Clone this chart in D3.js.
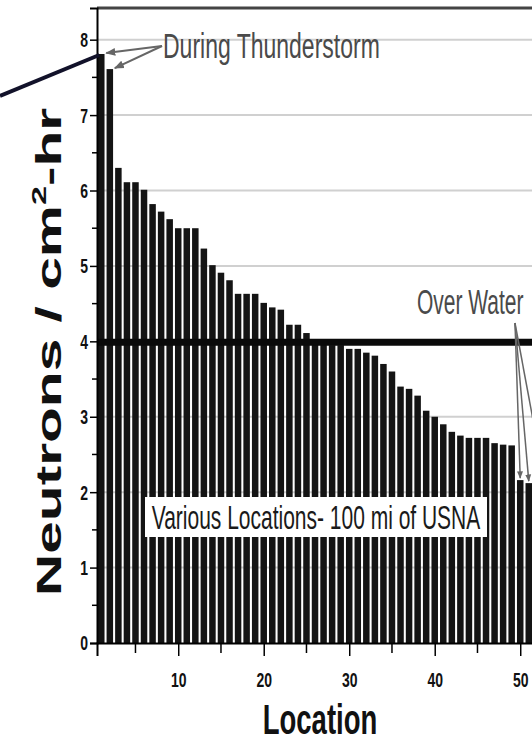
<!DOCTYPE html>
<html>
<head>
<meta charset="utf-8">
<script src="https://cdn.jsdelivr.net/npm/d3@7"></script>
<style>
html, body { margin: 0; padding: 0; background: #fff; }
svg { display: block; }
text { font-family: "Liberation Sans", Arial, sans-serif; }
</style>
</head>
<body>
<script>
// ---- data ----
const locations = [1,2,3,4,5,6,7,8,9,10,11,12,13,14,15,16,17,18,19,20,21,22,23,24,25,26,27,28,29,30,31,32,33,34,35,36,37,38,39,40,41,42,43,44,45,46,47,48,49,50,51];
const neutrons = [7.81,7.61,6.30,6.11,6.11,6.01,5.82,5.72,5.62,5.50,5.50,5.50,5.23,5.01,4.91,4.81,4.63,4.63,4.63,4.51,4.45,4.42,4.22,4.22,4.11,4.00,4.00,3.95,3.95,3.90,3.90,3.85,3.81,3.70,3.60,3.40,3.37,3.28,3.08,3.00,2.90,2.80,2.75,2.72,2.72,2.72,2.65,2.63,2.62,2.16,2.12];
const yTicks = [0,1,2,3,4,5,6,7,8];
const yMinorTicks = [0.5,1.5,2.5,3.5,4.5,5.5,6.5,7.5];
const xTicks = [10,20,30,40,50];
const xMinorTicks = [5,15,25,35,45];
const referenceLevel = 4;
const thunderstormIdx = [1,2];
const overWaterIdx = [50,51];
const labels = {
  x: "Location",
  y1: "Neutrons / cm", ysup: "2", y2: "-hr",
  thunder: "During Thunderstorm",
  water: "Over Water",
  various: "Various Locations- 100 mi of USNA"
};

(function () {
const W = 532, H = 745;
const svg = d3.select("body").append("svg").attr("width", W).attr("height", H);

const mLeft = 97, mBottom = 643, mTop = 8;
const x = d3.scaleLinear().domain([0.5, 52.5]).range([mLeft, mLeft + 52 * 8.55]);
const y = d3.scaleLinear().domain([0, 8.42]).range([mBottom, mTop]);
const barW = 6.5;

const defs = svg.append("defs");
defs.append("marker").attr("id", "arr").attr("viewBox", "0 0 10 10")
  .attr("refX", 9).attr("refY", 5).attr("markerWidth", 5).attr("markerHeight", 5)
  .attr("orient", "auto").append("path").attr("d", "M0,1 L10,5 L0,9 z").attr("fill", "#666");
defs.append("clipPath").attr("id", "plotclip").append("rect")
  .attr("x", mLeft).attr("y", 0).attr("width", W - mLeft).attr("height", mBottom);

// grid
svg.append("g").selectAll("line").data(yTicks.filter(d => d > 0)).join("line")
  .attr("x1", mLeft).attr("x2", W).attr("y1", d => y(d)).attr("y2", d => y(d))
  .attr("stroke", "#d0d0d0").attr("stroke-width", 2);

// frame top
svg.append("line").attr("x1", mLeft).attr("x2", W).attr("y1", mTop).attr("y2", mTop)
  .attr("stroke", "#444").attr("stroke-width", 3);

// bars
svg.append("g").attr("clip-path", "url(#plotclip)").selectAll("rect")
  .data(locations.map((l, i) => ({l, v: neutrons[i]}))).join("rect")
  .attr("x", d => x(d.l) - barW / 2).attr("width", barW)
  .attr("y", d => y(d.v)).attr("height", d => mBottom - y(d.v))
  .attr("fill", "#141414");

// reference line at 4
svg.append("line").attr("x1", mLeft).attr("x2", W)
  .attr("y1", y(referenceLevel) + 1).attr("y2", y(referenceLevel) + 1)
  .attr("stroke", "#0a0a0a").attr("stroke-width", 7);

// axes
const yAxis = d3.axisLeft(y).tickValues(yTicks).tickSize(7).tickFormat(d3.format("d"));
const gy = svg.append("g").attr("transform", `translate(${mLeft},0)`).call(yAxis);
gy.select(".domain").attr("stroke", "#000").attr("stroke-width", 2);
gy.selectAll(".tick line").attr("stroke", "#000").attr("stroke-width", 1.5);
gy.selectAll(".tick text").attr("x", null).attr("y", null).attr("dy", null)
  .attr("font-size", 14).attr("font-weight", "bold").attr("fill", "#111")
  .attr("text-anchor", "end").attr("dominant-baseline", "central")
  .attr("transform", "translate(-9,0) scale(1,1.45)");
svg.append("g").selectAll("line").data(yMinorTicks).join("line")
  .attr("x1", mLeft - 5).attr("x2", mLeft).attr("y1", d => y(d)).attr("y2", d => y(d))
  .attr("stroke", "#000").attr("stroke-width", 1.5);

const xAxis = d3.axisBottom(x).tickValues(xTicks).tickSize(13).tickFormat(d3.format("d"));
const gx = svg.append("g").attr("transform", `translate(0,${mBottom})`).call(xAxis);
gx.select(".domain").attr("stroke", "#000").attr("stroke-width", 2);
gx.selectAll(".tick line").attr("stroke", "#000").attr("stroke-width", 1.5);
gx.selectAll(".tick text").attr("y", null).attr("dy", null)
  .attr("font-size", 14).attr("font-weight", "bold").attr("fill", "#111")
  .attr("dominant-baseline", "central")
  .attr("transform", "translate(0,37) scale(1,1.45)");
svg.append("g").selectAll("line").data(xMinorTicks).join("line")
  .attr("x1", d => x(d)).attr("x2", d => x(d)).attr("y1", mBottom).attr("y2", mBottom + 10)
  .attr("stroke", "#000").attr("stroke-width", 1.5);

// axis titles
svg.append("text").attr("transform", "translate(320,734) scale(1,1.52)")
  .attr("text-anchor", "middle").attr("font-size", 27.5).attr("font-weight", "bold")
  .attr("fill", "#111").text(labels.x);

const yt = svg.append("text").attr("transform", "translate(61,352) rotate(-90) scale(1.63,1)")
  .attr("text-anchor", "middle").attr("font-size", 36).attr("font-weight", "bold").attr("fill", "#111");
yt.append("tspan").text(labels.y1);
yt.append("tspan").attr("font-size", 21).attr("dy", -15).text(labels.ysup);
yt.append("tspan").attr("dy", 15).text(labels.y2);

// pointer line on the left
svg.append("line").attr("x1", 0).attr("y1", 96).attr("x2", x(thunderstormIdx[0]) - 2).attr("y2", y(neutrons[0]) + 1)
  .attr("stroke", "#12122a").attr("stroke-width", 4);

// Various locations box
svg.append("rect").attr("x", 145).attr("y", 497).attr("width", 342).attr("height", 40).attr("fill", "#fff");
svg.append("text").attr("transform", "translate(316,529) scale(1,1.62)")
  .attr("text-anchor", "middle").attr("font-size", 21).attr("fill", "#1a1a1a").attr("font-weight", 500)
  .text(labels.various);

// During thunderstorm
svg.append("text").attr("transform", "translate(163,58) scale(1,1.55)")
  .attr("font-size", 23).attr("fill", "#4a4a4a").text(labels.thunder);
thunderstormIdx.forEach(i => {
  svg.append("line").attr("x1", 162).attr("y1", 46)
    .attr("x2", x(i) + 5).attr("y2", y(neutrons[i - 1]) - 1)
    .attr("stroke", "#666").attr("stroke-width", 2).attr("marker-end", "url(#arr)");
});

// Over water
svg.append("text").attr("transform", "translate(417,314) scale(1,1.65)")
  .attr("font-size", 21).attr("fill", "#4a4a4a").text(labels.water);
const wTargets = [{xx: x(overWaterIdx[0]), yy: y(neutrons[overWaterIdx[0] - 1])},
                  {xx: x(overWaterIdx[1]), yy: y(neutrons[overWaterIdx[1] - 1])},
                  {xx: x(overWaterIdx[1]) + 16, yy: y(neutrons[overWaterIdx[1] - 1]) + 2}];
wTargets.forEach(t => {
  svg.append("line").attr("x1", 515).attr("y1", 323).attr("x2", t.xx).attr("y2", t.yy - 2)
    .attr("stroke", "#666").attr("stroke-width", 1.5).attr("marker-end", "url(#arr)");
});
})();
</script>
</body>
</html>
